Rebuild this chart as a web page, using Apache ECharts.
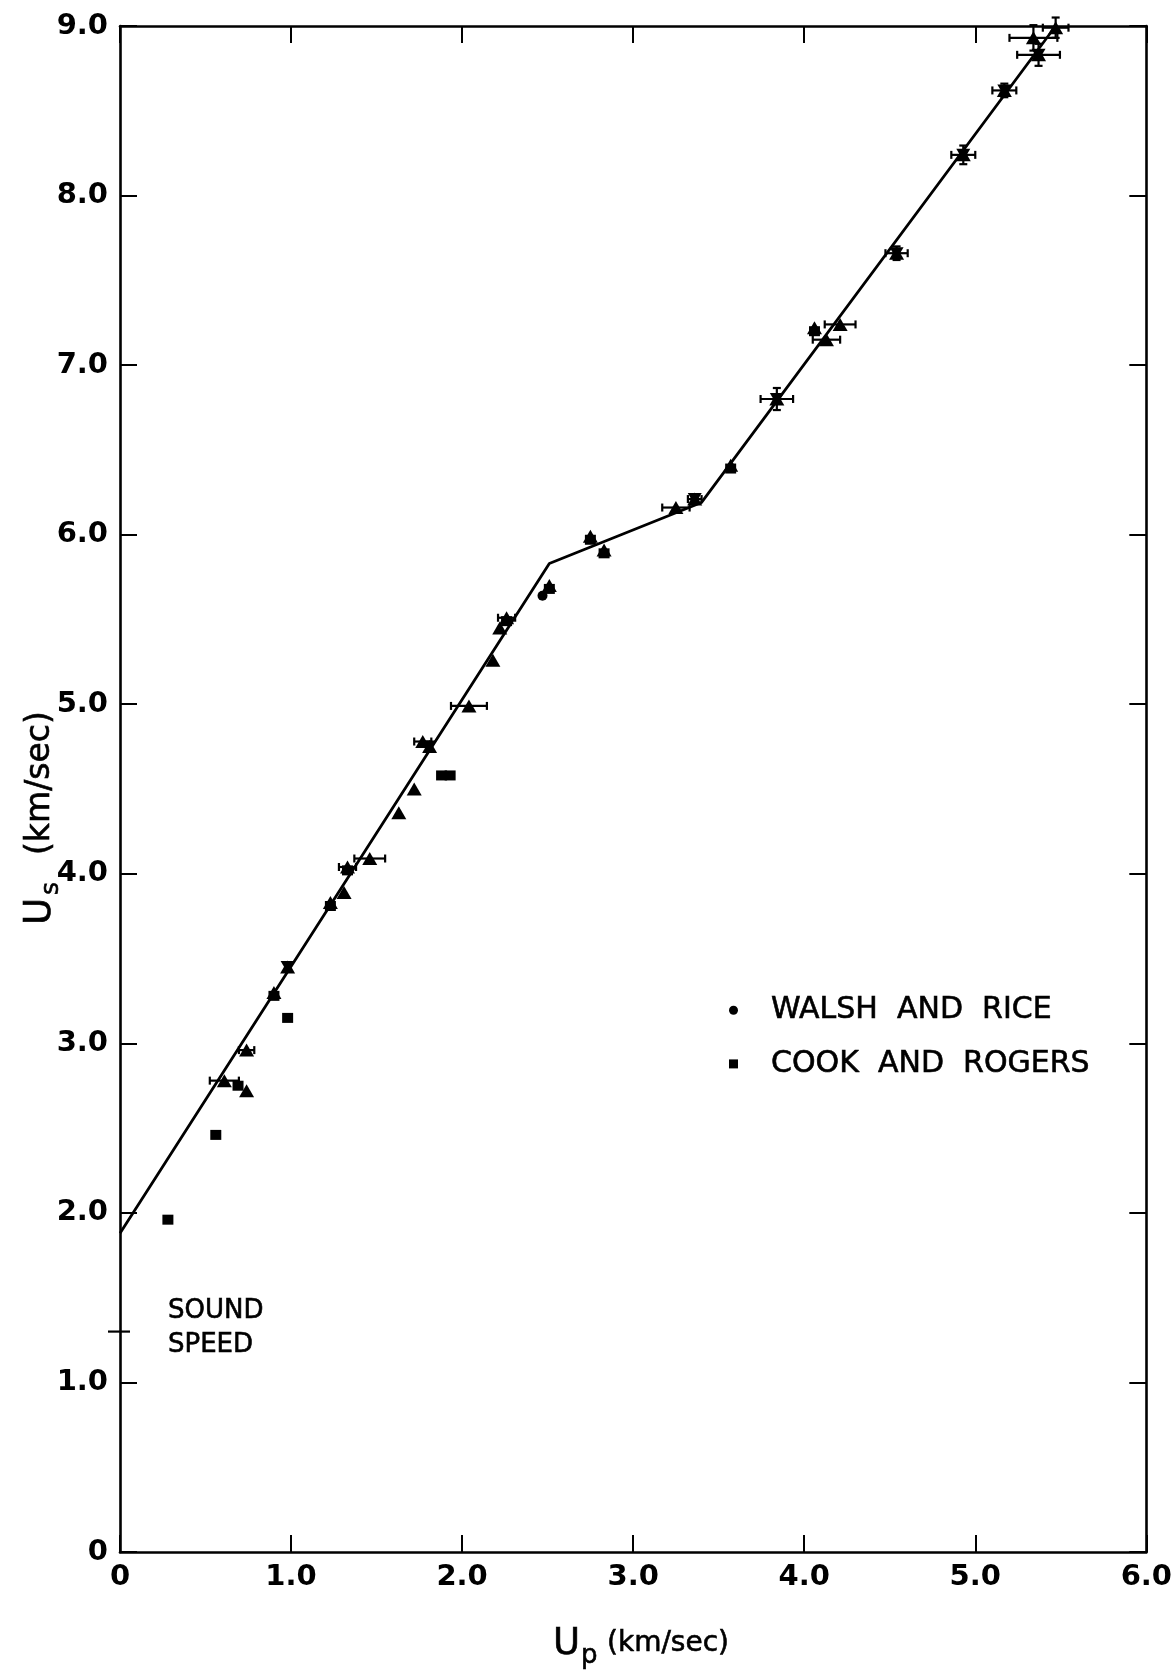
<!DOCTYPE html>
<html>
<head>
<meta charset="utf-8">
<script src="https://cdn.jsdelivr.net/npm/echarts@6/dist/echarts.min.js"></script>
<style>
  html, body { margin: 0; padding: 0; background: #ffffff; }
  #chart { width: 1175px; height: 1673px; }
</style>
</head>
<body>
<div id="chart"></div>
<script>
// Shock velocity Us versus particle velocity Up (km/sec)
const FONT = '"DejaVu Sans", "Liberation Sans", sans-serif';

const xTickValues = [0, 1, 2, 3, 4, 5, 6];
const xTickLabels = ['0', '1.0', '2.0', '3.0', '4.0', '5.0', '6.0'];
const yTickValues = [0, 1, 2, 3, 4, 5, 6, 7, 8, 9];
const yTickLabels = ['0', '1.0', '2.0', '3.0', '4.0', '5.0', '6.0', '7.0', '8.0', '9.0'];

// three-segment Hugoniot fit [Up, Us]
const fitLine = [[0, 1.88], [2.51, 5.83], [3.40, 6.19], [5.47, 9.0]];

// present data, upright triangles [Up, Us]
const triangleData = [
  [0.61, 2.78], [0.74, 2.96], [0.74, 2.72], [0.90, 3.30], [0.98, 3.45],
  [1.23, 3.83], [1.31, 3.89], [1.33, 4.04], [1.46, 4.09], [1.63, 4.36],
  [1.72, 4.50], [1.77, 4.78], [1.81, 4.75], [2.04, 4.99], [2.18, 5.26],
  [2.22, 5.45], [2.26, 5.51], [2.51, 5.70], [2.75, 5.99], [2.83, 5.91],
  [3.25, 6.16], [3.36, 6.21], [3.57, 6.41], [3.84, 6.80], [4.06, 7.22],
  [4.13, 7.15], [4.21, 7.24], [4.54, 7.66], [4.93, 8.24], [5.17, 8.62],
  [5.34, 8.93], [5.37, 8.83], [5.47, 8.99]
];
// present data, inverted triangles [Up, Us]
const invertedData = [
  [0.98, 3.45], [1.81, 4.75], [3.36, 6.21], [3.84, 6.80],
  [4.54, 7.66], [4.93, 8.24], [5.17, 8.62], [5.37, 8.83]
];
// Walsh and Rice [Up, Us]
const walshRice = [[2.47, 5.64]];
// Cook and Rogers [Up, Us]
const cookRogers = [
  [0.28, 1.96], [0.56, 2.46], [0.69, 2.75], [0.98, 3.15], [1.88, 4.58], [1.93, 4.58],
  [0.90, 3.28], [1.23, 3.81], [1.33, 4.02], [2.26, 5.49], [2.51, 5.68],
  [2.75, 5.97], [2.83, 5.89], [3.57, 6.39], [4.06, 7.20]
];
// error bars [Up, Us, ±Up, ±Us]
const errorBars = [
  [0.61, 2.78, 0.085, 0], [0.74, 2.96, 0.045, 0], [1.33, 4.04, 0.05, 0],
  [1.46, 4.09, 0.09, 0], [1.77, 4.78, 0.05, 0], [2.04, 4.99, 0.105, 0],
  [2.26, 5.51, 0.05, 0], [3.25, 6.16, 0.08, 0], [3.36, 6.21, 0.04, 0],
  [3.84, 6.80, 0.095, 0.065], [4.13, 7.15, 0.08, 0], [4.21, 7.24, 0.09, 0],
  [4.54, 7.66, 0.065, 0.04], [4.93, 8.24, 0.07, 0.055], [5.17, 8.62, 0.07, 0.04],
  [5.34, 8.93, 0.14, 0.075], [5.37, 8.83, 0.125, 0.065], [5.47, 8.99, 0.075, 0.06]
];
// sound speed marker on the Us axis
const soundSpeed = [[0, 1.30]];
const soundSpeedText = 'SOUND\nSPEED';

const seriesNames = ['WALSH  AND  RICE', 'COOK  AND  ROGERS'];
const xTitle = ['U', 'p', '(km/sec)'];
const yTitle = ['U', 's', '(km/sec)'];

const chart = echarts.init(document.getElementById('chart'), null, { renderer: 'canvas' });

const INK = '#000';
const axisLineStyle = { color: INK, width: 2.6 };
const tickStyle = { color: INK, width: 2 };
const labelStyle = { color: INK, fontFamily: FONT, fontSize: 29, fontWeight: 'bold' };

function txt(text, x, y, size, extra) {
  return {
    type: 'text', x: x, y: y,
    style: Object.assign({
      text: text, fill: INK, fontFamily: FONT, fontSize: size,
      align: 'left', verticalAlign: 'middle', stroke: INK, lineWidth: 0.6
    }, extra || {})
  };
}

const option = {
  backgroundColor: '#ffffff',
  animation: false,
  grid: { left: 120, top: 26, width: 1027, height: 1526, containLabel: false },
  legend: {
    data: [
      { name: seriesNames[0], icon: 'circle' },
      { name: seriesNames[1], icon: 'rect' }
    ],
    orient: 'vertical',
    left: 729, top: 995, padding: 0,
    itemWidth: 9, itemHeight: 9, itemGap: 23,
    selectedMode: false,
    textStyle: {
      color: INK, fontFamily: FONT, fontSize: 30, lineHeight: 30,
      padding: [0, 0, 0, 28], textBorderColor: INK, textBorderWidth: 0.6
    }
  },
  xAxis: [
    {
      type: 'value', min: 0, max: 6, interval: 1, position: 'bottom',
      axisLine: { show: true, onZero: false, lineStyle: axisLineStyle },
      axisTick: { show: true, inside: true, length: 17, lineStyle: tickStyle },
      splitLine: { show: false },
      axisLabel: Object.assign({ margin: 11, formatter: (v) => xTickLabels[xTickValues.indexOf(v)] }, labelStyle)
    },
    {
      type: 'value', min: 0, max: 6, interval: 1, position: 'top',
      axisLine: { show: true, onZero: false, lineStyle: axisLineStyle },
      axisTick: { show: true, inside: true, length: 17, lineStyle: tickStyle },
      splitLine: { show: false }, axisLabel: { show: false }
    }
  ],
  yAxis: [
    {
      type: 'value', min: 0, max: 9, interval: 1, position: 'left',
      axisLine: { show: true, onZero: false, lineStyle: axisLineStyle },
      axisTick: { show: true, inside: true, length: 17, lineStyle: tickStyle },
      splitLine: { show: false },
      axisLabel: Object.assign({ margin: 12, formatter: (v) => yTickLabels[yTickValues.indexOf(v)] }, labelStyle)
    },
    {
      type: 'value', min: 0, max: 9, interval: 1, position: 'right',
      axisLine: { show: true, onZero: false, lineStyle: axisLineStyle },
      axisTick: { show: true, inside: true, length: 17, lineStyle: tickStyle },
      splitLine: { show: false }, axisLabel: { show: false }
    }
  ],
  graphic: [
    {
      // Up (km/sec)
      type: 'group', x: 553, y: 1644, silent: true,
      children: [
        txt(xTitle[0], 0, 0, 37),
        txt(xTitle[1], 28, 12, 26),
        txt(xTitle[2], 54, 0, 28)
      ]
    },
    {
      // Us (km/sec), reading upward
      type: 'group', x: 40, y: 925, rotation: Math.PI / 2, silent: true,
      children: [
        txt(yTitle[0], 0, 0, 37),
        txt(yTitle[1], 30, 11, 25),
        txt(yTitle[2], 70, 0, 33)
      ]
    }
  ],
  series: [
    {
      type: 'line', name: 'fit', data: fitLine, showSymbol: false, z: 2,
      lineStyle: { color: INK, width: 2.8 }, silent: true
    },
    {
      type: 'custom', name: 'error', data: errorBars, z: 3, silent: true,
      renderItem: function (params, api) {
        const x = api.value(0), y = api.value(1), dx = api.value(2), dy = api.value(3);
        const st = { stroke: INK, lineWidth: 2.2 };
        const kids = [];
        const cap = 4;
        if (dx > 0) {
          const a = api.coord([x - dx, y]), b = api.coord([x + dx, y]);
          kids.push({ type: 'line', shape: { x1: a[0], y1: a[1], x2: b[0], y2: b[1] }, style: st });
          kids.push({ type: 'line', shape: { x1: a[0], y1: a[1] - cap, x2: a[0], y2: a[1] + cap }, style: st });
          kids.push({ type: 'line', shape: { x1: b[0], y1: b[1] - cap, x2: b[0], y2: b[1] + cap }, style: st });
        }
        if (dy > 0) {
          const a = api.coord([x, y - dy]), b = api.coord([x, y + dy]);
          kids.push({ type: 'line', shape: { x1: a[0], y1: a[1], x2: b[0], y2: b[1] }, style: st });
          kids.push({ type: 'line', shape: { x1: a[0] - cap, y1: a[1], x2: a[0] + cap, y2: a[1] }, style: st });
          kids.push({ type: 'line', shape: { x1: b[0] - cap, y1: b[1], x2: b[0] + cap, y2: b[1] }, style: st });
        }
        return { type: 'group', children: kids };
      }
    },
    {
      type: 'scatter', name: 'present', data: triangleData, z: 4, silent: true,
      symbol: 'triangle', symbolSize: [15, 13], itemStyle: { color: INK, opacity: 1 }
    },
    {
      type: 'scatter', name: 'present-inv', data: invertedData, z: 4, silent: true,
      symbol: 'triangle', symbolRotate: 180, symbolSize: [14, 12], itemStyle: { color: INK, opacity: 1 }
    },
    {
      type: 'scatter', name: seriesNames[0], data: walshRice, z: 5, silent: true,
      symbol: 'circle', symbolSize: 10, itemStyle: { color: INK, opacity: 1 }
    },
    {
      type: 'scatter', name: seriesNames[1], data: cookRogers, z: 5, silent: true,
      symbol: 'rect', symbolSize: [11, 10], itemStyle: { color: INK, opacity: 1, borderRadius: 2 }
    },
    {
      type: 'custom', name: 'sound', data: soundSpeed, z: 6, silent: true, clip: false,
      renderItem: function (params, api) {
        const p = api.coord([api.value(0), api.value(1)]);
        return {
          type: 'group', children: [
            { type: 'line', shape: { x1: p[0] - 12, y1: p[1], x2: p[0] + 10, y2: p[1] }, style: { stroke: INK, lineWidth: 2.2 } },
            txt(soundSpeedText, p[0] + 48, p[1] - 3, 26, { lineHeight: 34 })
          ]
        };
      }
    }
  ]
};

chart.setOption(option);
</script>
</body>
</html>
